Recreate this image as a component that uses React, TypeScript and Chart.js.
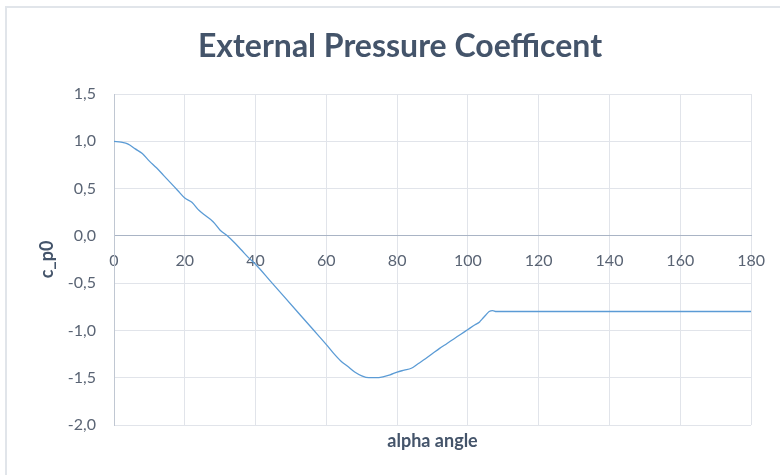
import React, { useEffect, useRef } from "react";
import { Chart, registerables } from "chart.js";

Chart.register(...registerables);

const TITLE = "External Pressure Coefficent";
const X_TITLE = "alpha angle";
const Y_TITLE = "c_p0";

const ALPHA = [
  0, 2, 4, 6, 8, 10, 12, 14, 16, 18, 20, 22, 24, 26, 28, 30, 32, 34, 36, 38, 40,
  44, 48, 52, 56, 60, 62, 64, 66, 68, 70, 72, 74, 76, 78, 80, 82, 84, 86, 88, 90,
  92, 94, 96, 98, 100, 102, 103.3, 104, 105, 106, 107, 108, 180,
];
const CP0 = [
  1.0, 0.99, 0.97, 0.92, 0.87, 0.79, 0.72, 0.64, 0.56, 0.48, 0.4, 0.355, 0.27, 0.21, 0.15, 0.06, 0.0, -0.07, -0.15, -0.23, -0.3,
  -0.47, -0.64, -0.81, -0.98, -1.15, -1.24, -1.32, -1.38, -1.44, -1.48, -1.5, -1.5, -1.49, -1.47, -1.44, -1.42, -1.4, -1.35, -1.3, -1.245,
  -1.19, -1.14, -1.09, -1.04, -0.99, -0.94, -0.91, -0.88, -0.84, -0.8, -0.79, -0.8, -0.8,
];

const X_MIN = 0;
const X_MAX = 180;
const X_STEP = 20;
const Y_MIN = -2;
const Y_MAX = 1.5;
const Y_STEP = 0.5;

const FONT = "Lato, 'Open Sans', sans-serif";

const frame = {
  id: "frame",
  beforeDraw(chart: any) {
    const ctx = chart.ctx;
    ctx.save();
    ctx.fillStyle = "#ffffff";
    ctx.fillRect(0, 0, chart.width, chart.height);
    ctx.strokeStyle = "#e1e5ea";
    ctx.lineWidth = 2;
    ctx.beginPath();
    ctx.moveTo(6, chart.height + 5);
    ctx.lineTo(6, 7);
    ctx.lineTo(chart.width + 5, 7);
    ctx.stroke();
    ctx.restore();
  },
};

export default function App() {
  const ref = useRef<HTMLCanvasElement>(null);
  useEffect(() => {
    if (!ref.current) return;
    const points = ALPHA.map((a, i) => ({ x: a, y: CP0[i] }));
    const chart = new Chart(ref.current, {
      type: "line",
      data: {
        datasets: [
          {
            label: Y_TITLE,
            data: points,
            borderColor: "#5b9bd5",
            borderWidth: 1.3,
            pointRadius: 0,
            fill: false,
            tension: 0,
            cubicInterpolationMode: "monotone",
          },
        ],
      },
      options: {
        animation: false,
        responsive: true,
        maintainAspectRatio: false,
        layout: { padding: { left: 20, right: 0, top: 0, bottom: 0 } },
        plugins: {
          legend: { display: false },
          tooltip: { enabled: false },
          title: {
            display: true,
            text: TITLE,
            color: "#44546a",
            font: { family: FONT, size: 32, weight: "bold" },
            padding: { top: 27.8, bottom: 27.8 },
          },
        },
        scales: {
          x: {
            type: "linear",
            min: X_MIN,
            max: X_MAX,
            position: { y: 0 },
            ticks: {
              stepSize: X_STEP,
              color: "#5a6474",
              font: { family: FONT, size: 16 },
              padding: 15,
              maxRotation: 0,
            },
            grid: { color: "#e1e4ea", lineWidth: 1, drawTicks: false },
            border: { display: true, color: "#a9b4c5", width: 1 },
          },
          xt: {
            type: "linear",
            min: X_MIN,
            max: X_MAX,
            position: "bottom",
            ticks: { display: false },
            grid: { display: false, drawTicks: false },
            border: { display: false },
            title: {
              display: true,
              text: X_TITLE,
              color: "#44546a",
              font: { family: FONT, size: 18, weight: "bold" },
              padding: { top: 0, bottom: 22.7 },
            },
            afterFit: (s: any) => {
              s.height = 50;
            },
          },
          y: {
            type: "linear",
            min: Y_MIN,
            max: Y_MAX,
            position: "left",
            ticks: {
              stepSize: Y_STEP,
              color: "#5a6474",
              font: { family: FONT, size: 16 },
              padding: 18,
              callback: (v: any) => Number(v).toFixed(1).replace(".", ","),
            },
            grid: { color: "#e1e4ea", lineWidth: 1, drawTicks: false },
            border: { display: true, color: "#c0c7d2", width: 1 },
            title: {
              display: true,
              text: Y_TITLE,
              color: "#44546a",
              font: { family: FONT, size: 18, weight: "bold" },
              padding: { top: 16.2, bottom: 0 },
            },
            afterFit: (s: any) => {
              s.width = 94;
            },
          },
          yr: {
            type: "linear",
            min: Y_MIN,
            max: Y_MAX,
            position: "right",
            ticks: { display: false },
            grid: { display: false, drawTicks: false },
            border: { display: false },
            afterFit: (s: any) => {
              s.width = 28;
            },
          },
        },
      },
      plugins: [frame],
    } as any);
    return () => chart.destroy();
  }, []);
  return (
    <div style={{ position: "absolute", left: 0, top: 0, width: 780, height: 475 }}>
      <canvas ref={ref} />
    </div>
  );
}
